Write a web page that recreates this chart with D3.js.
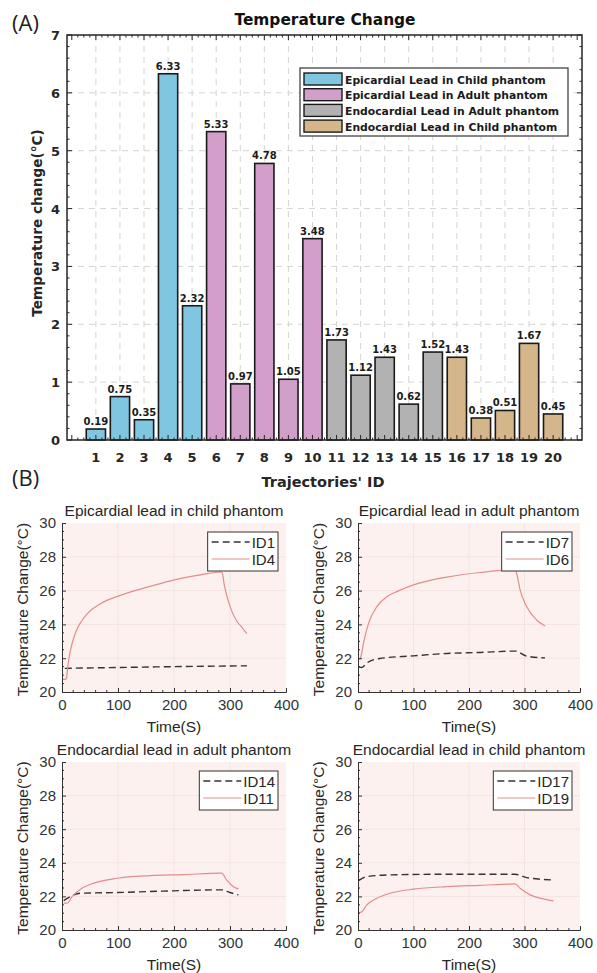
<!DOCTYPE html>
<html>
<head>
<meta charset="utf-8">
<script src="https://cdn.jsdelivr.net/npm/d3@7"></script>
<style>
  body { margin: 0; background: #fff; }
  svg { display: block; }
</style>
</head>
<body>
<div id="chart"></div>
<script>
// ---- data: panel (A) ----
const trajectoryIds = [1, 2, 3, 4, 5, 6, 7, 8, 9, 10, 11, 12, 13, 14, 15, 16, 17, 18, 19, 20]
const tempChange = [0.19, 0.75, 0.35, 6.33, 2.32, 5.33, 0.97, 4.78, 1.05, 3.48,
  1.73, 1.12, 1.43, 0.62, 1.52, 1.43, 0.38, 0.51, 1.67, 0.45]
const groupOfBar = [0, 0, 0, 0, 0, 1, 1, 1, 1, 1, 2, 2, 2, 2, 2, 3, 3, 3, 3, 3]
const groupNames = ['Epicardial Lead in Child phantom', 'Epicardial Lead in Adult phantom',
  'Endocardial Lead in Adult phantom', 'Endocardial Lead in Child phantom']
const groupColors = ['#80c6e0', '#d19fca', '#b2b2b2', '#d5b68a']
const yTicksA = [0, 1, 2, 3, 4, 5, 6, 7]

// ---- data: panel (B), [time (s), temperature (°C)] ----
const id1 = [[5, 21.4], [100, 21.45], [200, 21.5], [330, 21.55]]
const id4 = [[0, 20.75], [5, 20.75], [8, 20.8], [10, 21.4], [13, 22.1], [17, 22.75], [22, 23.3],
  [28, 23.8], [35, 24.2], [43, 24.55], [52, 24.85], [65, 25.15], [80, 25.42], [104, 25.72],
  [130, 26.0], [157, 26.25], [190, 26.55], [217, 26.75], [250, 26.95], [283, 27.1],
  [286, 27.05], [290, 26.3], [296, 25.5], [303, 24.8], [312, 24.2], [322, 23.8], [330, 23.45]]
const id7 = [[1, 21.49], [7, 21.45], [16, 21.72], [39, 21.98], [100, 22.14], [160, 22.28],
  [220, 22.34], [283, 22.42], [304, 22.12], [337, 22.02]]
const id6 = [[3, 21.9], [6, 22.2], [10, 22.9], [19, 24.06], [34, 25.05], [52, 25.64], [70, 25.94],
  [100, 26.34], [160, 26.8], [220, 27.07], [283, 27.23], [286, 27.0], [292, 26.04],
  [304, 25.05], [322, 24.26], [337, 23.9]]
const id14 = [[3, 21.75], [15, 21.99], [33, 22.19], [98, 22.23], [157, 22.29], [217, 22.35],
  [285, 22.39], [300, 22.23], [315, 22.09]]
const id11 = [[3, 21.6], [9, 21.6], [18, 21.99], [33, 22.43], [51, 22.72], [98, 23.08],
  [157, 23.24], [217, 23.3], [285, 23.38], [294, 22.98], [306, 22.58], [315, 22.45]]
const id17 = [[1, 22.94], [16, 23.18], [58, 23.28], [160, 23.32], [283, 23.32], [304, 23.12],
  [352, 22.98]]
const id19 = [[1, 21.03], [7, 21.09], [16, 21.49], [34, 21.89], [58, 22.19], [100, 22.43],
  [160, 22.58], [220, 22.66], [283, 22.74], [292, 22.48], [310, 22.09], [334, 21.85],
  [352, 21.73]]
const panelTitles = ['Epicardial lead in child phantom', 'Epicardial lead in adult phantom',
  'Endocardial lead in adult phantom', 'Endocardial lead in child phantom']
const panelSeries = [
  [{ name: 'ID1', values: id1, dashed: true }, { name: 'ID4', values: id4, dashed: false }],
  [{ name: 'ID7', values: id7, dashed: true }, { name: 'ID6', values: id6, dashed: false }],
  [{ name: 'ID14', values: id14, dashed: true }, { name: 'ID11', values: id11, dashed: false }],
  [{ name: 'ID17', values: id17, dashed: true }, { name: 'ID19', values: id19, dashed: false }]
]
const timeTicks = [0, 100, 200, 300, 400]
const tempTicks = [20, 22, 24, 26, 28, 30]

const width = 597
const height = 973
const axisColor = '#262626'
const boldFont = '"DejaVu Sans", Verdana, sans-serif'

const svg = d3.select('#chart').append('svg')
  .attr('width', width)
  .attr('height', height)
  .style('font-family', '"Liberation Sans", Arial, sans-serif')

svg.append('rect').attr('width', width).attr('height', height).attr('fill', '#fff')

// ================= (A) bar chart =================
const a = { left: 67, right: 582, top: 35, bottom: 440 }

const x = d3.scaleLinear().domain([-0.2, 21.2]).range([a.left, a.right])
const y = d3.scaleLinear().domain([0, 7]).range([a.bottom, a.top])
const barW = x(0.8) - x(0)

const gA = svg.append('g').style('font-family', boldFont)

// grid
gA.append('g')
  .selectAll('line')
  .data(trajectoryIds)
  .join('line')
  .attr('x1', d => x(d)).attr('x2', d => x(d))
  .attr('y1', a.top).attr('y2', a.bottom)
  .attr('stroke', '#d4d4d4').attr('stroke-dasharray', '6,5')
gA.append('g')
  .selectAll('line')
  .data(yTicksA.slice(1, -1))
  .join('line')
  .attr('x1', a.left).attr('x2', a.right)
  .attr('y1', d => y(d)).attr('y2', d => y(d))
  .attr('stroke', '#d4d4d4').attr('stroke-dasharray', '6,5')

// bars
gA.append('g')
  .selectAll('rect')
  .data(tempChange)
  .join('rect')
  .attr('x', (d, i) => x(trajectoryIds[i]) - barW / 2)
  .attr('y', d => y(d))
  .attr('width', barW)
  .attr('height', d => y(0) - y(d))
  .attr('fill', (d, i) => groupColors[groupOfBar[i]])
  .attr('stroke', '#1a1a1a')
  .attr('stroke-width', 1.6)

gA.append('g')
  .selectAll('text')
  .data(tempChange)
  .join('text')
  .attr('x', (d, i) => x(trajectoryIds[i]))
  .attr('y', d => y(d) - 4)
  .attr('text-anchor', 'middle')
  .attr('font-size', 10)
  .attr('font-weight', 'bold')
  .attr('fill', '#1a1a1a')
  .text(d => d.toFixed(2))

// frame with inward ticks on all sides
const minorX = d3.range(0, 21.01, 0.25)
const minorY = d3.range(0, 7.001, 0.2)
const ticksA = gA.append('g').attr('stroke', axisColor)
ticksA.selectAll('.mxb').data(minorX).join('line')
  .attr('x1', d => x(d)).attr('x2', d => x(d))
  .attr('y1', a.bottom).attr('y2', d => a.bottom - (Number.isInteger(d) ? 5 : 2.5))
ticksA.selectAll('.mxt').data(minorX).join('line')
  .attr('x1', d => x(d)).attr('x2', d => x(d))
  .attr('y1', a.top).attr('y2', d => a.top + (Number.isInteger(d) ? 5 : 2.5))
ticksA.selectAll('.myl').data(minorY).join('line')
  .attr('y1', d => y(d)).attr('y2', d => y(d))
  .attr('x1', a.left).attr('x2', (d, i) => a.left + (i % 5 === 0 ? 5 : 2.5))
ticksA.selectAll('.myr').data(minorY).join('line')
  .attr('y1', d => y(d)).attr('y2', d => y(d))
  .attr('x1', a.right).attr('x2', (d, i) => a.right - (i % 5 === 0 ? 5 : 2.5))
gA.append('rect')
  .attr('x', a.left).attr('y', a.top)
  .attr('width', a.right - a.left).attr('height', a.bottom - a.top)
  .attr('fill', 'none').attr('stroke', axisColor).attr('stroke-width', 1.5)

// tick labels
gA.append('g')
  .selectAll('text')
  .data(trajectoryIds)
  .join('text')
  .attr('x', d => x(d))
  .attr('y', a.bottom + 22)
  .attr('text-anchor', 'middle')
  .attr('font-size', 13)
  .attr('font-weight', 'bold')
  .attr('fill', axisColor)
  .text(d => d)
gA.append('g')
  .selectAll('text')
  .data(yTicksA)
  .join('text')
  .attr('x', a.left - 7)
  .attr('y', d => y(d) + 5)
  .attr('text-anchor', 'end')
  .attr('font-size', 13)
  .attr('font-weight', 'bold')
  .attr('fill', axisColor)
  .text(d => d)

gA.append('text')
  .attr('x', 325)
  .attr('y', 25)
  .attr('text-anchor', 'middle')
  .attr('font-size', 15.4)
  .attr('font-weight', 'bold')
  .attr('fill', '#111')
  .text('Temperature Change')
gA.append('text')
  .attr('x', 323)
  .attr('y', 487)
  .attr('text-anchor', 'middle')
  .attr('font-size', 14.5)
  .attr('font-weight', 'bold')
  .attr('fill', axisColor)
  .text("Trajectories' ID")
gA.append('text')
  .attr('transform', 'translate(42,223) rotate(-90)')
  .attr('text-anchor', 'middle')
  .attr('font-size', 13.6)
  .attr('font-weight', 'bold')
  .attr('fill', axisColor)
  .text('Temperature change(°C)')

// legend
const legA = gA.append('g').attr('transform', 'translate(300,68)')
legA.append('rect')
  .attr('width', 268).attr('height', 68)
  .attr('fill', '#fff').attr('stroke', '#444').attr('stroke-width', 1.3)
const legRows = legA.selectAll('g.row')
  .data(groupNames)
  .join('g')
  .attr('transform', (d, i) => `translate(4,${5 + i * 15.7})`)
legRows.append('rect')
  .attr('width', 38).attr('height', 12)
  .attr('fill', (d, i) => groupColors[i])
  .attr('stroke', '#1a1a1a').attr('stroke-width', 1.4)
legRows.append('text')
  .attr('x', 41).attr('y', 10.5)
  .attr('font-size', 10.8)
  .attr('font-weight', 'bold')
  .attr('fill', '#1a1a1a')
  .text(d => d)

// panel letters
svg.append('text').attr('x', 12).attr('y', 31)
  .attr('font-family', '"Open Sans", sans-serif').attr('font-size', 22).attr('fill', '#222')
  .text('(A)')
svg.append('text').attr('x', 12).attr('y', 486)
  .attr('font-family', '"Open Sans", sans-serif').attr('font-size', 22).attr('fill', '#222')
  .text('(B)')

// ================= (B) time curves =================
const panelBoxes = [
  { left: 62, right: 286, top: 523, bottom: 692 },
  { left: 358, right: 580, top: 523, bottom: 692 },
  { left: 62, right: 286, top: 762, bottom: 930 },
  { left: 358, right: 580, top: 762, bottom: 930 }
]

panelBoxes.forEach((b, p) => {
  const g = svg.append('g')
  const px = d3.scaleLinear().domain([0, 400]).range([b.left, b.right])
  const py = d3.scaleLinear().domain([20, 30]).range([b.bottom, b.top])

  g.append('rect')
    .attr('x', b.left).attr('y', b.top)
    .attr('width', b.right - b.left).attr('height', b.bottom - b.top)
    .attr('fill', '#fcf1ef')

  // faint grid
  g.append('g').selectAll('line').data(timeTicks.slice(1, -1)).join('line')
    .attr('x1', d => px(d)).attr('x2', d => px(d))
    .attr('y1', b.top).attr('y2', b.bottom)
    .attr('stroke', '#f3e4e1')
  g.append('g').selectAll('line').data(tempTicks.slice(1, -1)).join('line')
    .attr('y1', d => py(d)).attr('y2', d => py(d))
    .attr('x1', b.left).attr('x2', b.right)
    .attr('stroke', '#f3e4e1')

  const line = d3.line()
    .x(d => px(d[0]))
    .y(d => py(d[1]))
    .curve(d3.curveMonotoneX)

  panelSeries[p].forEach(s => {
    g.append('path')
      .datum(s.values)
      .attr('d', line)
      .attr('fill', 'none')
      .attr('stroke', s.dashed ? '#333' : '#e48c8c')
      .attr('stroke-width', s.dashed ? 1.4 : 1.2)
      .attr('stroke-dasharray', s.dashed ? '7,4' : null)
  })

  // axes: left and bottom, inward ticks
  const xAxis = d3.axisBottom(px).tickValues(timeTicks).tickSize(-4).tickPadding(7)
  const yAxis = d3.axisLeft(py).tickValues(tempTicks).tickSize(-4).tickPadding(6)
  const gx = g.append('g').attr('transform', `translate(0,${b.bottom})`).call(xAxis)
  const gy = g.append('g').attr('transform', `translate(${b.left},0)`).call(yAxis)
  ;[gx, gy].forEach(ax => {
    ax.select('.domain').attr('stroke', '#333')
    ax.selectAll('.tick line').attr('stroke', '#333')
    ax.selectAll('.tick text')
      .attr('font-size', 15).attr('fill', '#333')
      .attr('font-family', '"Liberation Sans", Arial, sans-serif')
  })
  // minor ticks
  g.append('g').attr('stroke', '#333').selectAll('line')
    .data(d3.range(20, 400, 20).filter(d => d % 100 !== 0)).join('line')
    .attr('x1', d => px(d)).attr('x2', d => px(d))
    .attr('y1', b.bottom).attr('y2', b.bottom - 2)
  g.append('g').attr('stroke', '#333').selectAll('line')
    .data(d3.range(20.5, 30, 0.5).filter(d => d % 2 !== 0)).join('line')
    .attr('y1', d => py(d)).attr('y2', d => py(d))
    .attr('x1', b.left).attr('x2', b.left + 2)

  g.append('text')
    .attr('x', (b.left + b.right) / 2)
    .attr('y', b.top - 7)
    .attr('text-anchor', 'middle')
    .attr('font-size', 15.5)
    .attr('fill', '#262626')
    .text(panelTitles[p])
  g.append('text')
    .attr('x', (b.left + b.right) / 2)
    .attr('y', b.bottom + 40)
    .attr('text-anchor', 'middle')
    .attr('font-size', 15.5)
    .attr('fill', '#262626')
    .text('Time(S)')
  g.append('text')
    .attr('transform', `translate(${b.left - 34},${(b.top + b.bottom) / 2 + 2}) rotate(-90)`)
    .attr('text-anchor', 'middle')
    .attr('font-size', 15.5)
    .attr('fill', '#262626')
    .text('Temperature Change(°C)')

  // legend
  const leg = g.append('g')
  const box = leg.append('rect')
    .attr('fill', '#fff').attr('stroke', '#333').attr('stroke-width', 1)
  const rows = leg.selectAll('g.row').data(panelSeries[p]).join('g')
    .attr('transform', (d, i) => `translate(0,${i * 17})`)
  rows.append('line')
    .attr('x1', 4).attr('x2', 42)
    .attr('stroke', d => d.dashed ? '#333' : '#e48c8c')
    .attr('stroke-width', d => d.dashed ? 1.4 : 1.2)
    .attr('stroke-dasharray', d => d.dashed ? '7,4' : null)
  rows.append('text')
    .attr('x', 44).attr('y', 5.5)
    .attr('font-size', 15).attr('fill', '#262626')
    .text(d => d.name)
  const legW = 44 + d3.max(rows.selectAll('text').nodes(), n => n.getComputedTextLength()) + 3
  box.attr('x', 0).attr('y', -10).attr('width', legW).attr('height', 39)
  leg.attr('transform', `translate(${b.right - 8 - legW},${b.top + 19})`)
})
</script>
</body>
</html>
